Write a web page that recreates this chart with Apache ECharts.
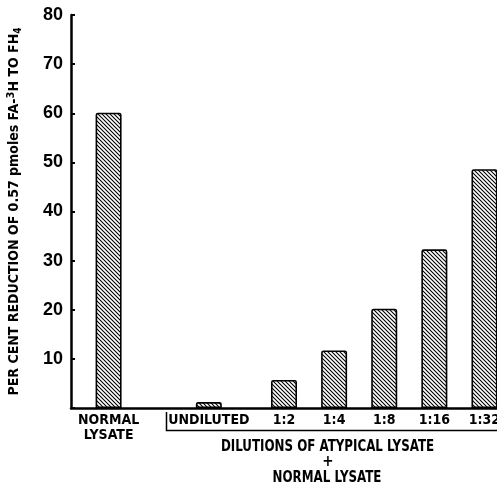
<!DOCTYPE html>
<html><head><meta charset="utf-8">
<script src="https://cdn.jsdelivr.net/npm/echarts@6/dist/echarts.min.js"></script>
<style>html,body{margin:0;padding:0;background:#fff;overflow:hidden}#c{width:497px;height:486px}</style>
</head><body><div id="c"></div>
<script>
// ---- data ----
const categories = ["NORMAL\nLYSATE", "UNDILUTED", "1:2", "1:4", "1:8", "1:16", "1:32"];
const values = [60.1, 1.2, 5.7, 11.7, 20.2, 32.3, 48.6];
const yTicks = [10, 20, 30, 40, 50, 60, 70, 80];
const yTitle = "PER CENT REDUCTION OF 0.57 pmoles FA-{sup|3}H TO FH{sub|4}";
const groupTitle = ["DILUTIONS OF ATYPICAL LYSATE", "+", "NORMAL LYSATE"];

// ---- layout (slot index of each category on the axis) ----
const slots = [1, 5, 8, 10, 12, 14, 16];
const nSlots = 17;
const axisCats = new Array(nSlots).fill("");
const seriesData = new Array(nSlots).fill(null);
slots.forEach((s, i) => { axisCats[s] = categories[i]; seriesData[s] = values[i]; });

const NARROW = "'Liberation Sans Narrow', 'DejaVu Sans Condensed', 'Arial Narrow', sans-serif";
const WIDE = "'Liberation Sans', Arial, sans-serif";

// hatch pattern
const tile = document.createElement('canvas');
tile.width = 4; tile.height = 4;
const g = tile.getContext('2d');
g.fillStyle = '#fff'; g.fillRect(0, 0, 4, 4);
g.strokeStyle = '#000'; g.lineWidth = 1.1; g.lineCap = 'square';
g.beginPath();
g.moveTo(-1, -1); g.lineTo(5, 5);
g.moveTo(-3, 1); g.lineTo(1, 5);
g.moveTo(3, -1); g.lineTo(5, 1);
g.stroke();

const chart = echarts.init(document.getElementById('c'), null, { renderer: 'canvas' });
chart.setOption({
  backgroundColor: '#fff',
  animation: false,
  grid: { left: 71, right: 0, top: 15, bottom: 78, containLabel: false, outerBoundsMode: 'none' },
  xAxis: {
    type: 'category',
    data: axisCats,
    boundaryGap: true,
    axisLine: { lineStyle: { color: '#000', width: 2.5 } },
    axisTick: { show: false },
    axisLabel: {
      interval: 0, margin: 5, color: '#000', fontFamily: NARROW, fontWeight: 'bold',
      fontSize: 14, lineHeight: 15, hideOverlap: false
    }
  },
  yAxis: {
    type: 'value', min: 0, max: 80, interval: 10,
    name: yTitle,
    nameLocation: 'middle', nameRotate: 90, nameGap: 48,
    nameTextStyle: {
      color: '#000', fontFamily: NARROW, fontWeight: 'bold', fontSize: 14,
      rich: {
        sup: { fontSize: 11, fontFamily: NARROW, fontWeight: 'bold', color: '#000', verticalAlign: 'top', padding: [0, 0, 6, 0] },
        sub: { fontSize: 10, fontFamily: NARROW, fontWeight: 'bold', color: '#000', verticalAlign: 'bottom', padding: [6, 0, 0, 0] }
      }
    },
    axisLine: { show: true, lineStyle: { color: '#000', width: 2.5 } },
    axisTick: { show: true, inside: true, length: 4, lineStyle: { color: '#000', width: 2 } },
    splitLine: { show: false },
    axisLabel: {
      margin: 8, color: '#000', fontFamily: WIDE, fontWeight: 'bold', fontSize: 18,
      formatter: v => (yTicks.indexOf(v) >= 0 ? String(v) : '')
    }
  },
  series: [{
    type: 'bar',
    data: seriesData,
    barWidth: 26,
    itemStyle: {
      color: { image: tile, repeat: 'repeat' },
      borderColor: '#000', borderWidth: 1.6, borderRadius: [1.5, 1.5, 0, 0]
    }
  }],
  graphic: [
    { type: 'polyline', shape: { points: [[166.5, 412], [166.5, 430.5], [497, 430.5]] },
      style: { stroke: '#000', lineWidth: 1.5, fill: null } },
    { type: 'text', x: 327.5, y: 447.5, scaleX: 0.88, style: { text: groupTitle[0], fill: '#000', font: "bold 15px " + NARROW, align: 'center', verticalAlign: 'middle' } },
    { type: 'text', x: 328, y: 462, style: { text: groupTitle[1], fill: '#000', font: "bold 15px " + NARROW, align: 'center', verticalAlign: 'middle' } },
    { type: 'text', x: 327, y: 478.5, scaleX: 0.88, style: { text: groupTitle[2], fill: '#000', font: "bold 15px " + NARROW, align: 'center', verticalAlign: 'middle' } }
  ]
});
</script></body></html>
